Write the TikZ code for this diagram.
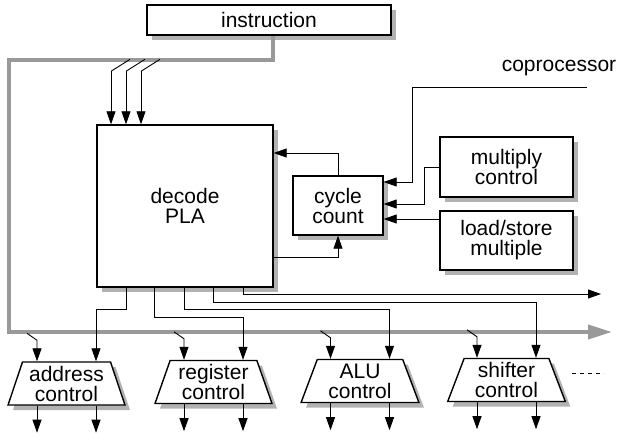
\documentclass[tikz,border=0pt]{standalone}
\usepackage{fontspec}
\setmainfont{Liberation Sans}
\usetikzlibrary{arrows.meta,shapes.geometric,shadows,calc}
\newcommand\lbl{\fontsize{21}{20}\selectfont}
\begin{document}
\begin{tikzpicture}[x=1pt,y=-1pt,
  shad/.style={drop shadow={shadow xshift=5pt,shadow yshift=-5pt,fill=black!30,opacity=1}},
  box/.style={draw,line width=1.4pt,fill=white,shad,align=center,font=\lbl,inner sep=0pt},
  trap/.style={box,trapezium,trapezium angle=71,trapezium stretches=true,minimum width=118pt,minimum height=43pt},
  conn/.style={line width=0.9pt,-{Triangle[length=13pt,width=9pt]}},
  bus/.style={line width=4pt,color=black!40,-{Triangle[length=24pt,width=14pt]}}]
\useasboundingbox (0,0) rectangle (621,433);
% boxes
\node[box,minimum width=244pt,minimum height=30pt] (instr) at (269,20) {instruction};
\node[box,minimum width=176pt,minimum height=162pt] (dec) at (185,206) {decode\\PLA};
\node[box,minimum width=90pt,minimum height=59pt] (cyc) at (338,205.5) {cycle\\count};
\node[box,minimum width=133pt,minimum height=60pt] (mul) at (506.5,167) {multiply\\control};
\node[box,minimum width=133pt,minimum height=59pt] (ls) at (506.5,240.5) {load/store\\multiple};
\node[font=\lbl] (cop) at (559,68) {coprocessor};
\coordinate (copend) at (587,87);
% trapezia
\node[trap] (addr) at (66.5,383.5) {address\\control};
\node[trap] (reg) at (213.5,382) {register\\control};
\node[trap] (alu) at (360,381) {ALU\\control};
\node[trap] (shf) at (506.5,380) {shifter\\control};
% bus
\coordinate (busend) at (612,332);
\draw[bus] ([xshift=4pt]instr.south) -- ++(0,24) -| (9,332) -- (busend);
% taps from bus into decode
\foreach \dx in {-74,-59,-44}{
  \draw[line width=0.9pt] ($(dec.north)+(\dx+19,-65)$) -- ($(dec.north)+(\dx,-53)$);
  \draw[conn] ($(dec.north)+(\dx,-53)$) -- ([xshift=\dx pt]dec.north);
}
% taps from bus into controls, and outputs
\foreach \t in {addr,reg,alu,shf}{
  \draw[conn] ($(\t.north)+(-39.5,-28)$) -- ($(\t.north)+(-29.5,-21)$) -- ([xshift=-29.5pt]\t.north);
  \draw[conn] ([xshift=-29.5pt]\t.south) -- ++(0,27);
  \draw[conn] ([xshift=29.5pt]\t.south) -- ++(0,27);
}
% decode outputs
\coordinate (out5) at (601,294);
\draw[conn] ([xshift=-59pt]dec.south) -- ++(0,22) -| ([xshift=29.5pt]addr.north);
\draw[conn] ([xshift=-31pt]dec.south) -- ++(0,30) -| ([xshift=29.5pt]reg.north);
\draw[conn] ([xshift=-1pt]dec.south) -- ++(0,22) -| ([xshift=29.5pt]alu.north);
\draw[conn] ([xshift=28pt]dec.south) -- ++(0,15) -| ([xshift=29.5pt]shf.north);
\draw[conn] ([xshift=58pt]dec.south) |- (out5);
% cycle count connections
\draw[conn] (cyc.north) |- ([yshift=53pt]dec.east);
\draw[conn] ([yshift=-51pt]dec.east) -| (cyc.south);
\draw[conn] (copend) -- (412,87) |- ([yshift=23.5pt]cyc.east);
\draw[conn] (mul.west) -- ++(-15,0) |- ([yshift=1.5pt]cyc.east);
\draw[conn] ([yshift=21.5pt]ls.west) -- ([yshift=-13.5pt]cyc.east);
% ellipsis
\draw[line width=1pt,dash pattern=on 4pt off 4pt] (572,373) -- (604,373);
\end{tikzpicture}
\end{document}
